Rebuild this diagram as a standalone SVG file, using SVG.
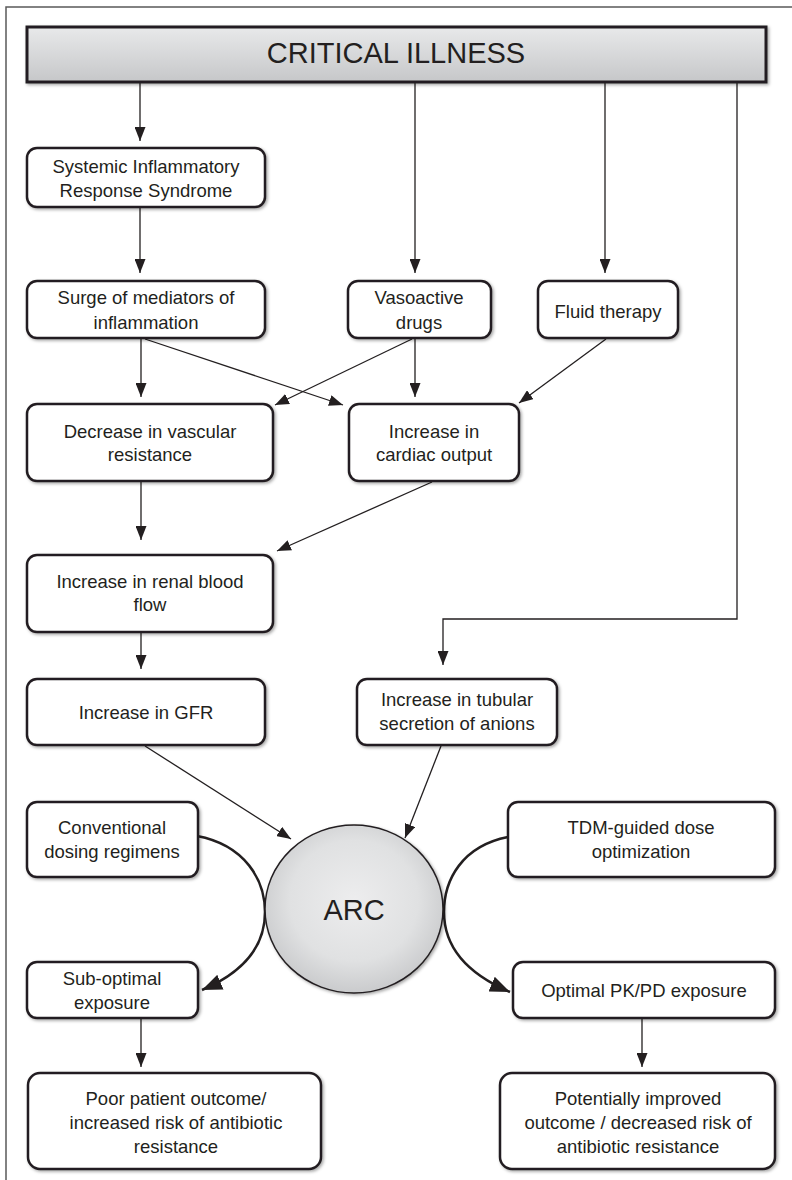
<svg xmlns="http://www.w3.org/2000/svg" width="792" height="1180" viewBox="0 0 792 1180">
<defs>
<style>
.box{fill:#fff;stroke:#231f20;stroke-width:2.5;filter:url(#sh)}
.t{font-family:"Liberation Sans",Arial,sans-serif;font-size:18.5px;fill:#231f20;text-anchor:middle}
.big{font-family:"Liberation Sans",Arial,sans-serif;font-size:29px;fill:#231f20;text-anchor:middle}
.ln{fill:none;stroke:#231f20;stroke-width:1.3;marker-end:url(#ah)}
.cv{fill:none;stroke:#231f20;stroke-width:2.5;marker-end:url(#ahb)}
</style>
<filter id="sh" x="-10%" y="-10%" width="120%" height="130%">
<feDropShadow dx="1.5" dy="1.5" stdDeviation="1.5" flood-color="#000" flood-opacity="0.35"/>
</filter>
<linearGradient id="hg" x1="0" y1="0" x2="0" y2="1">
<stop offset="0" stop-color="#e8e9ea"/>
<stop offset="1" stop-color="#c6c7c9"/>
</linearGradient>
<radialGradient id="eg" cx="0.5" cy="0.45" r="0.6">
<stop offset="0" stop-color="#ededee"/>
<stop offset="0.6" stop-color="#e0e1e2"/>
<stop offset="1" stop-color="#c4c5c7"/>
</radialGradient>
<marker id="ah" markerUnits="userSpaceOnUse" markerWidth="14" markerHeight="11" refX="14" refY="5.5" orient="auto">
<path d="M0,0 L14,5.5 L0,11 Z" fill="#231f20"/>
</marker>
<marker id="ahb" markerUnits="userSpaceOnUse" markerWidth="20" markerHeight="16" refX="20" refY="8" orient="auto">
<path d="M0,0 L20,8 L0,16 Z" fill="#231f20"/>
</marker>
</defs>
<rect width="792" height="1180" fill="#fff"/>
<g id="frame" fill="none" stroke="#5a5a5a" stroke-width="1.5">
<path d="M6,1180 L6,7 L792,7"/>
</g>
<g id="connectors">
<path class="ln" d="M140,82 L140,141"/>
<path class="ln" d="M415,82 L415,273"/>
<path class="ln" d="M605,82 L605,273"/>
<path class="ln" d="M737,82 L737,619 L443,619 L443,665"/>
<path class="ln" d="M140,207 L140,273"/>
<path class="ln" d="M141,338 L141,397"/>
<path class="ln" d="M145,339 L343,405"/>
<path class="ln" d="M412,339 L275,405"/>
<path class="ln" d="M415,338 L415,397"/>
<path class="ln" d="M606,339 L519,403"/>
<path class="ln" d="M141,481 L141,540"/>
<path class="ln" d="M432,482 L277,551"/>
<path class="ln" d="M141,632 L141,669"/>
<path class="ln" d="M145,746 L291,839"/>
<path class="ln" d="M441,746 L405,838"/>
<path class="ln" d="M141,1018 L141,1067"/>
<path class="ln" d="M642,1018 L642,1067"/>
<path class="cv" d="M197,836 C245,845 265,880 265,912 C265,948 242,973 202,990"/>
<path class="cv" d="M508,837 C462,846 444,880 444,912 C444,948 468,974 510,992"/>
</g>
<g id="critical-illness">
<rect x="27" y="27" width="739" height="55" fill="url(#hg)" stroke="#231f20" stroke-width="3" filter="url(#sh)"/>
<text class="big" x="396" y="63">CRITICAL ILLNESS</text>
</g>
<g id="sirs">
<rect class="box" x="27" y="148" width="238" height="59" rx="10"/>
<text class="t" x="146" y="173">Systemic Inflammatory</text>
<text class="t" x="146" y="197">Response Syndrome</text>
</g>
<g id="surge">
<rect class="box" x="27" y="281" width="238" height="57" rx="10"/>
<text class="t" x="146" y="304">Surge of mediators of</text>
<text class="t" x="146" y="329">inflammation</text>
</g>
<g id="vasoactive">
<rect class="box" x="348" y="281" width="143" height="57" rx="10"/>
<text class="t" x="419" y="304">Vasoactive</text>
<text class="t" x="419" y="329">drugs</text>
</g>
<g id="fluid">
<rect class="box" x="538" y="281" width="140" height="57" rx="10"/>
<text class="t" x="608" y="318">Fluid therapy</text>
</g>
<g id="decrease-vascular">
<rect class="box" x="27" y="404" width="246" height="77" rx="10"/>
<text class="t" x="150" y="438">Decrease in vascular</text>
<text class="t" x="150" y="461">resistance</text>
</g>
<g id="cardiac-output">
<rect class="box" x="349" y="404" width="170" height="77" rx="10"/>
<text class="t" x="434" y="438">Increase in</text>
<text class="t" x="434" y="461">cardiac output</text>
</g>
<g id="renal-blood-flow">
<rect class="box" x="27" y="555" width="246" height="77" rx="10"/>
<text class="t" x="150" y="588">Increase in renal blood</text>
<text class="t" x="150" y="611">flow</text>
</g>
<g id="gfr">
<rect class="box" x="27" y="679" width="238" height="66" rx="10"/>
<text class="t" x="146" y="719">Increase in GFR</text>
</g>
<g id="tubular">
<rect class="box" x="357" y="679" width="200" height="66" rx="10"/>
<text class="t" x="457" y="706">Increase in tubular</text>
<text class="t" x="457" y="730">secretion of anions</text>
</g>
<g id="conventional">
<rect class="box" x="27" y="802" width="171" height="75" rx="10"/>
<text class="t" x="112" y="834">Conventional</text>
<text class="t" x="112" y="858">dosing regimens</text>
</g>
<g id="tdm">
<rect class="box" x="508" y="802" width="267" height="75" rx="10"/>
<text class="t" x="641" y="834">TDM-guided dose</text>
<text class="t" x="641" y="858">optimization</text>
</g>
<g id="arc">
<ellipse cx="354" cy="909" rx="89" ry="84" fill="url(#eg)" stroke="#231f20" stroke-width="1.5" filter="url(#sh)"/>
<text class="big" x="354" y="920">ARC</text>
</g>
<g id="sub-optimal">
<rect class="box" x="27" y="962" width="171" height="56" rx="10"/>
<text class="t" x="112" y="985">Sub-optimal</text>
<text class="t" x="112" y="1009">exposure</text>
</g>
<g id="optimal">
<rect class="box" x="513" y="962" width="262" height="56" rx="10"/>
<text class="t" x="644" y="997">Optimal PK/PD exposure</text>
</g>
<g id="poor-outcome">
<rect class="box" x="28" y="1073" width="293" height="96" rx="12"/>
<text class="t" x="176" y="1105">Poor patient outcome/</text>
<text class="t" x="176" y="1129">increased risk of antibiotic</text>
<text class="t" x="176" y="1153">resistance</text>
</g>
<g id="improved-outcome">
<rect class="box" x="500" y="1073" width="275" height="96" rx="12"/>
<text class="t" x="638" y="1105">Potentially improved</text>
<text class="t" x="638" y="1129">outcome / decreased risk of</text>
<text class="t" x="638" y="1153">antibiotic resistance</text>
</g>
</svg>
